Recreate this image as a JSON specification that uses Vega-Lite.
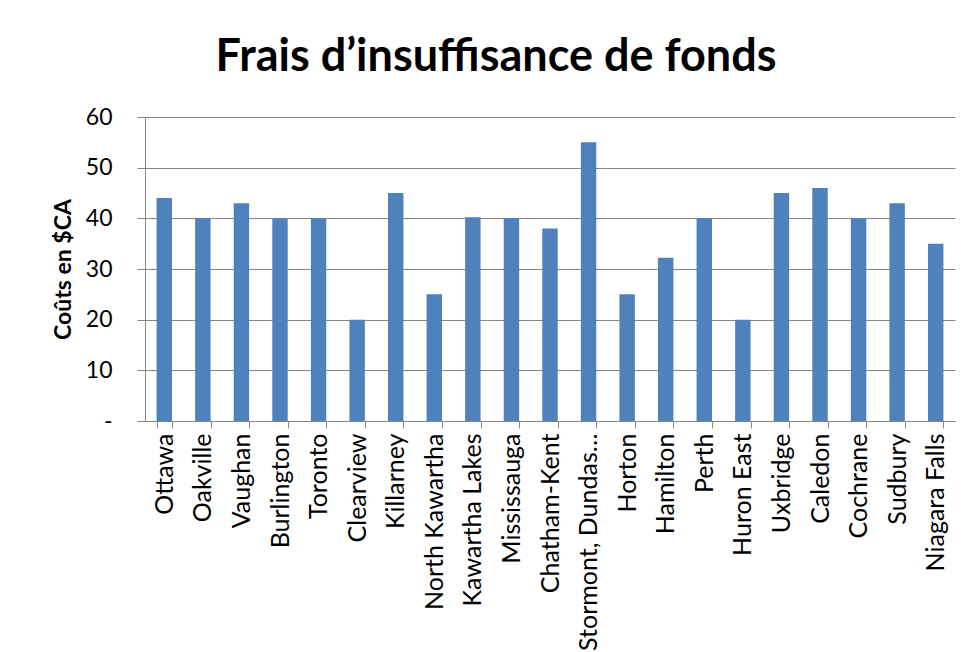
{
  "$schema": "https://vega.github.io/schema/vega-lite/v6.json",
  "autosize": "none",
  "width": 810,
  "height": 304,
  "padding": {"left": 145, "top": 117, "right": 19, "bottom": 231},
  "background": "white",
  "title": {
    "text": "Frais d’insuffisance de fonds",
    "font": "Lato",
    "fontSize": 45,
    "fontWeight": "bold",
    "color": "#000000",
    "anchor": "middle",
    "dx": -54,
    "offset": 26
  },
  "data": {
    "values": [
      {"ville": "Ottawa", "cout": 44},
      {"ville": "Oakville", "cout": 40},
      {"ville": "Vaughan", "cout": 43},
      {"ville": "Burlington", "cout": 40},
      {"ville": "Toronto", "cout": 40},
      {"ville": "Clearview", "cout": 20},
      {"ville": "Killarney", "cout": 45},
      {"ville": "North Kawartha", "cout": 25},
      {"ville": "Kawartha Lakes", "cout": 40.2},
      {"ville": "Mississauga", "cout": 40},
      {"ville": "Chatham-Kent", "cout": 38},
      {"ville": "Stormont, Dundas and Glengarry", "cout": 55},
      {"ville": "Horton", "cout": 25},
      {"ville": "Hamilton", "cout": 32.2},
      {"ville": "Perth", "cout": 40},
      {"ville": "Huron East", "cout": 20},
      {"ville": "Uxbridge", "cout": 45},
      {"ville": "Caledon", "cout": 46},
      {"ville": "Cochrane", "cout": 40},
      {"ville": "Sudbury", "cout": 43},
      {"ville": "Niagara Falls", "cout": 35}
    ]
  },
  "mark": {"type": "bar", "color": "#4F81BD"},
  "encoding": {
    "x": {
      "field": "ville",
      "type": "nominal",
      "sort": null,
      "scale": {"paddingInner": 0.6, "paddingOuter": 0.3},
      "axis": {
        "title": null,
        "labelAngle": -90,
        "labelAlign": "right",
        "labelBaseline": "middle",
        "labelFont": "Lato",
        "labelFontSize": 25,
        "labelColor": "#000000",
        "labelPadding": 5,
        "labelLimit": 222,
        "tickBand": "extent",
        "tickSize": 7,
        "tickColor": "#868686",
        "domainColor": "#868686",
        "grid": false
      }
    },
    "y": {
      "field": "cout",
      "type": "quantitative",
      "scale": {"domain": [0, 60], "nice": false},
      "axis": {
        "title": "Coûts en $CA",
        "titleFont": "Lato",
        "titleFontSize": 23,
        "titleFontWeight": "bold",
        "titleColor": "#000000",
        "titleX": -82,
        "titleBaseline": "middle",
        "values": [0, 10, 20, 30, 40, 50, 60],
        "labelExpr": "datum.value == 0 ? '-' : datum.label",
        "labelFont": "Lato",
        "labelFontSize": 23,
        "labelColor": "#000000",
        "labelPadding": 25,
        "tickSize": 8,
        "tickColor": "#868686",
        "domainColor": "#868686",
        "gridColor": "#868686",
        "gridWidth": 1,
        "gridOpacity": 1
      }
    }
  },
  "config": {
    "view": {"stroke": null}
  }
}
